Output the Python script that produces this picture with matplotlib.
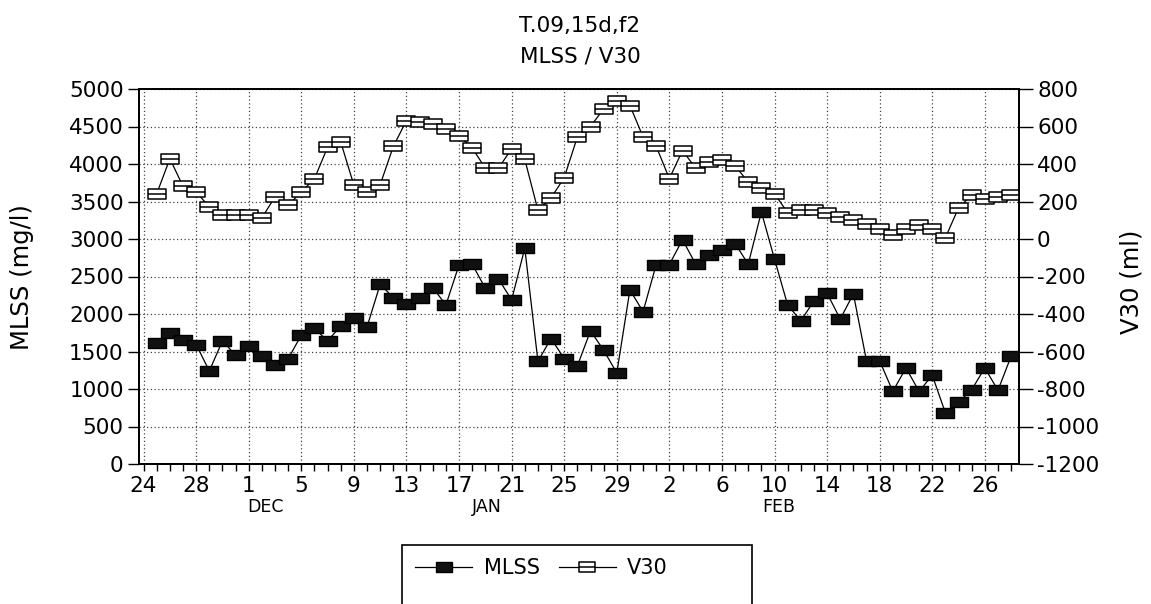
import matplotlib
matplotlib.use("Agg")
import matplotlib.pyplot as plt
from matplotlib.path import Path
from matplotlib.patches import Rectangle
from matplotlib.transforms import blended_transform_factory

plt.rcParams['axes.unicode_minus'] = False

# ---------------- data ----------------
days = list(range(1, 67))
mlss = [1615, 1750, 1660, 1593, 1240, 1643, 1450, 1571, 1437, 1317,
        1405, 1718, 1807, 1642, 1839, 1950, 1830, 2397, 2218, 2129,
        2209, 2352, 2120, 2656, 2663, 2343, 2468, 2187, 2879, 1370,
        1673, 1405, 1307, 1776, 1517, 1214, 2321, 2031, 2660, 2660,
        2991, 2665, 2781, 2857, 2938, 2665, 3361, 2731, 2120, 1910,
        2174, 2276, 1933, 2268, 1374, 1374, 968, 1281, 968, 1183,
        682, 825, 990, 1281, 982, 1437]
v30 = [242, 428, 281, 251, 171, 127, 127, 127, 113, 225,
       180, 251, 322, 490, 517, 287, 251, 290, 494, 632,
       623, 614, 587, 552, 485, 378, 378, 481, 425, 154,
       219, 327, 544, 600, 694, 738, 712, 544, 494, 322,
       472, 378, 410, 419, 390, 304, 273, 242, 140, 157,
       154, 140, 118, 104, 78, 51, 21, 56, 74, 56,
       7, 166, 234, 216, 226, 234]
tick_labels = ['24', '28', '1', '5', '9', '13', '17', '21', '25', '29',
               '2', '6', '10', '14', '18', '22', '26']
month_labels = ['DEC', 'JAN', 'FEB']
month_pos = [9.3, 26.1, 48.3]

# ---------------- figure ----------------
W, H = 1151, 604
fig = plt.figure(figsize=(W / 100, H / 100), dpi=100)
fig.patch.set_facecolor('white')
L, R, T, B = 139, 1019, 89, 464
ax = fig.add_axes([L / W, 1 - B / H, (R - L) / W, (B - T) / H])
ax2 = ax.twinx()

FS = 15.5

# markers
rect = Path([(-1, -0.58), (1, -0.58), (1, 0.58), (-1, 0.58), (-1, -0.58)],
            [Path.MOVETO, Path.LINETO, Path.LINETO, Path.LINETO, Path.CLOSEPOLY])
rect_line = Path([(-1, -0.58), (1, -0.58), (1, 0.58), (-1, 0.58), (-1, -0.58),
                  (-1, -0.05), (1, -0.05)],
                 [Path.MOVETO, Path.LINETO, Path.LINETO, Path.LINETO, Path.CLOSEPOLY,
                  Path.MOVETO, Path.LINETO])

l1, = ax.plot(days, mlss, color='black', lw=0.9, marker=rect, markersize=12.5,
              markerfacecolor='#111111', markeredgecolor='black', markeredgewidth=1.0,
              label='MLSS')
l2, = ax2.plot(days, v30, color='black', lw=0.9, marker=rect_line, markersize=12.5,
               markerfacecolor='white', markeredgecolor='black', markeredgewidth=1.1,
               label='V30')

# axes limits and ticks
ax.set_xlim(-0.35, 66.6)
ax.set_ylim(0, 5000)
ax2.set_ylim(-1200, 800)
ax.set_yticks(range(0, 5001, 500))
ax2.set_yticks(range(-1200, 801, 200))
ax.set_xticks(range(0, 65, 4))
ax.set_xticklabels(tick_labels)
ax.set_xticks(range(0, 67), minor=True)

ax.tick_params(axis='y', direction='out', length=8, width=1, labelsize=FS, pad=3)
ax2.tick_params(axis='y', direction='out', length=10, width=1, labelsize=FS, pad=3)
ax.tick_params(axis='x', which='major', direction='out', length=5, width=1,
               labelsize=FS, pad=4)
ax.tick_params(axis='x', which='minor', direction='out', length=5, width=1)

ax.grid(True, which='major', linestyle=(0, (1, 2)), color='#444444', linewidth=0.9)
for a in (ax, ax2):
    for s in a.spines.values():
        s.set_color('black')
        s.set_linewidth(1.3)

# month labels under the date ticks
trans = blended_transform_factory(ax.transData, ax.transAxes)
for m, p in zip(month_labels, month_pos):
    ax.text(p, -0.115, m, transform=trans, ha='center', va='center', fontsize=12.5)

# titles and axis labels
fig.text(580 / W, 1 - 26 / H, 'T.09,15d,f2', ha='center', va='center', fontsize=FS)
fig.text(580 / W, 1 - 56 / H, 'MLSS / V30', ha='center', va='center', fontsize=FS)
fig.text(22 / W, 1 - 277 / H, 'MLSS (mg/l)', rotation=90, ha='center', va='center',
         fontsize=17.5)
fig.text(1132 / W, 1 - 282 / H, 'V30 (ml)', rotation=90, ha='center', va='center',
         fontsize=17.5)

# legend
fig.legend(handles=[l1, l2], loc='center left', bbox_to_anchor=(415 / W, 1 - 568 / H),
           ncol=2, frameon=False, fontsize=15, handlelength=2.75, handletextpad=0.55,
           columnspacing=0.9, borderpad=0, borderaxespad=0, markerscale=0.9)
fig.patches.append(Rectangle((402 / W, -0.05), (752 - 402) / W, 0.05 + (1 - 545 / H),
                             transform=fig.transFigure, fill=False, edgecolor='black',
                             linewidth=1.2))

fig.savefig('out.png', dpi=100)
